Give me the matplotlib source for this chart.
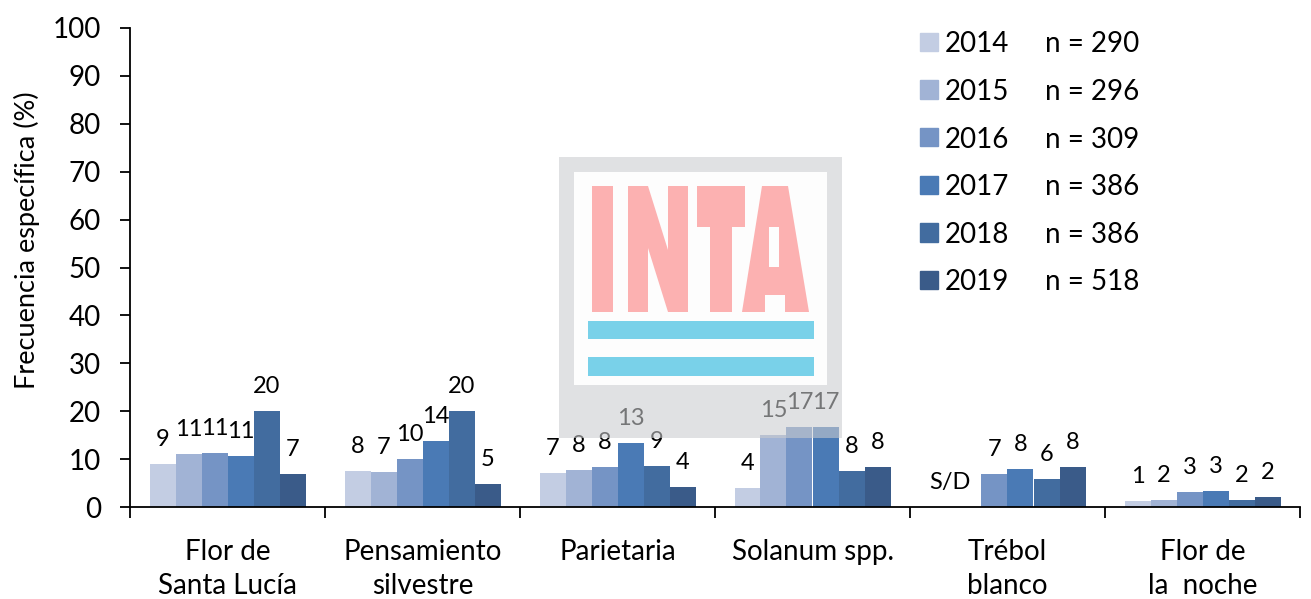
import numpy as np
import matplotlib
matplotlib.use("Agg")
import matplotlib.pyplot as plt
from matplotlib.patches import Rectangle, Polygon
from matplotlib.transforms import Affine2D

plt.rcParams["font.family"] = ["Lato", "DejaVu Sans"]

W, H = 1311, 599

# --- data (percent); None = S/D (sin datos) ---
categories = ["Flor de\nSanta Lucía", "Pensamiento\nsilvestre", "Parietaria",
              "Solanum spp.", "Trébol\nblanco", "Flor de\nla  noche"]
years = ["2014", "2015", "2016", "2017", "2018", "2019"]
n_obs = [290, 296, 309, 386, 386, 518]

v2014 = [8.9, 7.5, 7.1, 4.0, None, 1.3]
v2015 = [11.0, 7.3, 7.7, 15.0, None, 1.5]
v2016 = [11.3, 10.0, 8.3, 16.7, 6.9, 3.1]
v2017 = [10.7, 13.8, 13.4, 16.6, 7.9, 3.3]
v2018 = [20.0, 20.0, 8.6, 7.5, 5.9, 1.5]
v2019 = [6.9, 4.8, 4.2, 8.4, 8.4, 2.1]
series = [v2014, v2015, v2016, v2017, v2018, v2019]

colors = ["#c3cde3", "#a1b3d5", "#7594c5", "#4a7ab5", "#426c9f", "#3a5b89"]

fig = plt.figure(figsize=(W / 100, H / 100), dpi=100)
ax = fig.add_axes([130 / W, 1 - 507 / H, 1170 / W, 479 / H])

x = np.arange(len(categories))
bw = 0.8 / len(years)
for i, (vals, col) in enumerate(zip(series, colors)):
    xs = x + (i - 2.5) * bw
    h = [np.nan if v is None else v for v in vals]
    ax.bar(xs, h, width=bw, color=col, edgecolor="none", zorder=2)
    for xi, v in zip(xs, vals):
        if v is None:
            if i == 0:
                ax.annotate("S/D", (xi, 0), xytext=(5, 13), textcoords="offset points",
                            ha="center", va="baseline", fontsize=17)
            continue
        ax.annotate("%d" % round(v), (xi, v), xytext=(0, 13), textcoords="offset points",
                    ha="center", va="baseline", fontsize=17, zorder=3)

ax.set_xlim(-0.5, len(categories) - 0.5)
ax.set_ylim(0, 100)
ax.set_yticks(range(0, 101, 10))
ax.tick_params(axis="y", labelsize=20, length=7, width=1.3, pad=14)
ax.set_xticks(np.arange(len(categories) + 1) - 0.5)
ax.set_xticklabels([])
ax.tick_params(axis="x", which="major", length=8, width=1.3, direction="out")
ax.set_xticks(x, minor=True)
ax.set_xticklabels(categories, minor=True, fontsize=20, linespacing=1.38)
ax.tick_params(axis="x", which="minor", length=0, pad=23)
for s in ["top", "right"]:
    ax.spines[s].set_visible(False)
for s in ["left", "bottom"]:
    ax.spines[s].set_linewidth(1.3)
ax.set_ylabel("Frecuencia específica (%)", fontsize=19.5)
ax.yaxis.set_label_coords(-0.077, 0.557)

# legend drawn by hand: square, year, sample size
for i, (yr, n, col) in enumerate(zip(years, n_obs, colors)):
    yc = 1 - (42 + 47.6 * i - 28) / 479
    ax.add_patch(Rectangle((0.6755, yc - 0.019), 0.0154, 0.038, color=col,
                           transform=ax.transAxes, clip_on=False))
    ax.text(0.6965, yc, yr, transform=ax.transAxes, fontsize=20, va="center_baseline")
    ax.text(0.782, yc, "n = %d" % n, transform=ax.transAxes, fontsize=20,
            va="center_baseline")

# INTA watermark, in image pixels (y down)
px = Affine2D().scale(1 / W, -1 / H).translate(0, 1) + fig.transFigure


def mark(patch):
    patch.set_transform(px)
    patch.set_zorder(10)
    fig.add_artist(patch)


mark(Rectangle((559, 157), 283, 281, facecolor="#cbcccf", alpha=0.58, edgecolor="none"))
mark(Rectangle((574, 172), 253, 213, facecolor="#fdfdfd", edgecolor="none"))
PINK = "#fcb1b1"
mark(Rectangle((592, 186), 21, 126, facecolor=PINK, edgecolor="none"))
mark(Polygon([(628, 312), (628, 186), (648, 186), (668, 250), (668, 186), (688, 186),
              (688, 312), (668, 312), (648, 248), (648, 312)], facecolor=PINK,
             edgecolor="none"))
mark(Polygon([(697, 186), (745, 186), (745, 227), (732, 227), (732, 312), (710, 312),
              (710, 227), (697, 227)], facecolor=PINK, edgecolor="none"))
mark(Polygon([(762, 186), (788, 186), (809, 312), (785, 312), (785, 295), (765, 295),
              (765, 312), (742, 312)], facecolor=PINK, edgecolor="none"))
mark(Rectangle((769, 227), 10, 40, facecolor="#fdfdfd", edgecolor="none"))
mark(Rectangle((588, 321), 226, 18, facecolor="#79d1e9", edgecolor="none"))
mark(Rectangle((588, 357), 226, 19, facecolor="#79d1e9", edgecolor="none"))

fig.savefig("out.png", dpi=100, facecolor="white")
